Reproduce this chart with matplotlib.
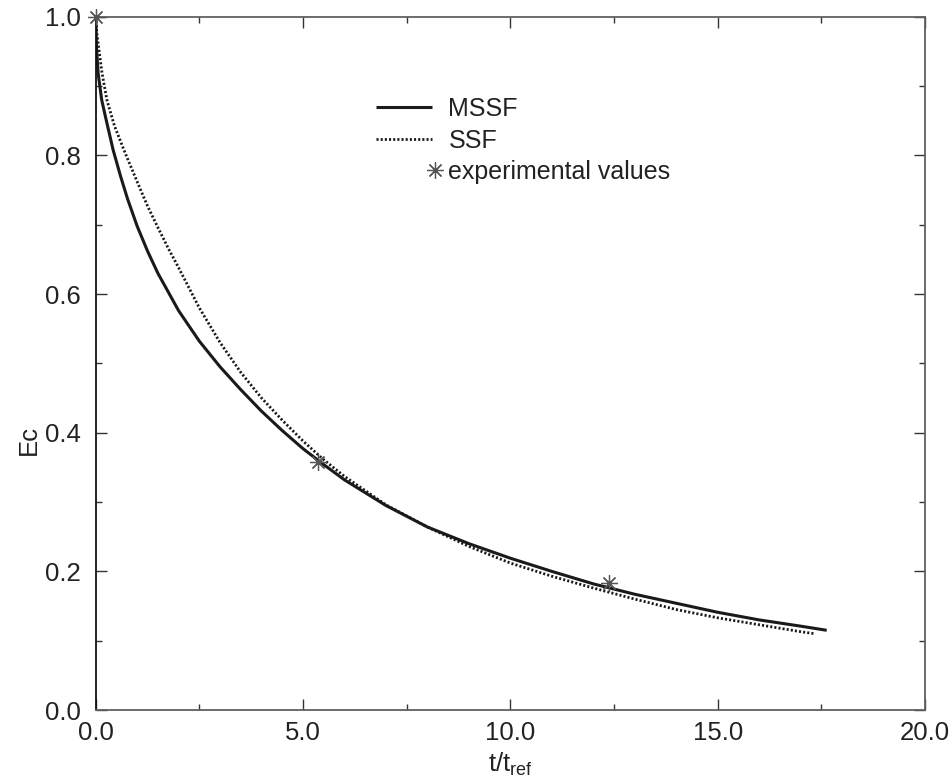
import matplotlib
matplotlib.use("Agg")
import matplotlib.pyplot as plt
from matplotlib.legend_handler import HandlerBase
from matplotlib.lines import Line2D
from matplotlib.ticker import MultipleLocator, FormatStrFormatter

plt.rcParams['font.family'] = ['Liberation Sans', 'DejaVu Sans']
plt.rcParams['mathtext.fontset'] = 'custom'
plt.rcParams['mathtext.rm'] = 'Liberation Sans'
plt.rcParams['mathtext.default'] = 'regular'

# MSSF model curve
mssf_t = [0.00, 0.02, 0.06, 0.145, 0.25, 0.42, 0.60, 0.77, 1.00, 1.25, 1.50,
          2.00, 2.50, 3.00, 3.50, 4.00, 4.50, 5.00, 5.50, 6.00, 7.00, 8.00,
          9.00, 10.00, 11.00, 12.00, 13.00, 14.00, 15.00, 16.00, 17.00, 17.63]
mssf_ec = [1.000, 0.955, 0.918, 0.880, 0.852, 0.808, 0.770, 0.737, 0.698, 0.662, 0.630,
           0.576, 0.532, 0.495, 0.462, 0.431, 0.403, 0.377, 0.354, 0.332, 0.295, 0.264,
           0.240, 0.219, 0.200, 0.182, 0.167, 0.154, 0.141, 0.130, 0.121, 0.115]

# SSF model curve
ssf_t = [0.00, 0.03, 0.08, 0.15, 0.27, 0.45, 0.70, 1.00, 1.25, 1.50, 1.75,
         2.00, 2.50, 3.00, 3.50, 4.00, 4.50, 5.00, 5.48, 6.00, 7.00, 8.00,
         9.00, 10.00, 11.00, 12.00, 13.00, 14.00, 15.00, 16.00, 17.00, 17.35]
ssf_ec = [1.000, 0.975, 0.952, 0.920, 0.880, 0.843, 0.805, 0.762, 0.727, 0.696, 0.666,
          0.638, 0.580, 0.530, 0.487, 0.450, 0.418, 0.388, 0.362, 0.337, 0.296, 0.264,
          0.236, 0.212, 0.193, 0.176, 0.160, 0.145, 0.133, 0.123, 0.113, 0.110]

# measured points
exp_t = [0.0, 5.35, 12.38]
exp_ec = [1.0, 0.358, 0.183]

labels = ["MSSF", "SSF", "experimental values"]


class MarkerAtEnd(HandlerBase):
    """Legend handler drawing a single marker at the right end of the handle box."""
    def create_artists(self, legend, orig_handle, xdescent, ydescent,
                       width, height, fontsize, trans):
        x = width - xdescent + 2
        y = height / 2 - ydescent
        mk = Line2D([x], [y], ls='none', marker=orig_handle.get_marker(),
                    ms=orig_handle.get_markersize(),
                    mew=orig_handle.get_markeredgewidth(),
                    color=orig_handle.get_color())
        mk.set_transform(trans)
        return [mk]


fig = plt.figure(figsize=(9.52, 7.80), dpi=100)
ax = fig.add_axes([0.1005, 0.0897, 0.8711, 0.8889])

l1, = ax.plot(mssf_t, mssf_ec, color='#1a1a1a', lw=2.2, solid_capstyle='butt',
              solid_joinstyle='round', label=labels[0])
l2, = ax.plot(ssf_t, ssf_ec, color='#1a1a1a', lw=2.0, dashes=(0.75, 0.75),
              label=labels[1])
l3, = ax.plot(exp_t, exp_ec, ls='none', marker=(8, 2, 0), ms=12, mew=0.9,
              color='#555555', label=labels[2], clip_on=False, zorder=5)

ax.set_xlim(0, 20)
ax.set_ylim(0, 1.0)
ax.xaxis.set_major_locator(MultipleLocator(5))
ax.xaxis.set_minor_locator(MultipleLocator(2.5))
ax.yaxis.set_major_locator(MultipleLocator(0.2))
ax.yaxis.set_minor_locator(MultipleLocator(0.1))
ax.xaxis.set_major_formatter(FormatStrFormatter('%.1f'))
ax.yaxis.set_major_formatter(FormatStrFormatter('%.1f'))

ax.tick_params(which='both', direction='in', top=True, right=True,
               color='#333333', width=1.0, labelsize=18.5, labelcolor='#222222')
ax.tick_params(which='major', length=8)
ax.tick_params(which='minor', length=4.5)
ax.tick_params(axis='x', which='major', pad=8)
ax.tick_params(axis='y', which='major', pad=11)

for side in ('bottom', 'right', 'top'):
    ax.spines[side].set_color('#606060')
    ax.spines[side].set_linewidth(1.3)
ax.spines['left'].set_color('#111111')
ax.spines['left'].set_linewidth(1.3)

ax.set_xlabel('t/t$_{ref}$', fontsize=18.5, color='#222222', labelpad=4)
ax.set_ylabel('Ec', fontsize=18.5, color='#222222')
ax.yaxis.set_label_coords(-0.066, 0.39)

leg = ax.legend(handles=[l1, l2, l3], labels=labels, loc='upper left',
                bbox_to_anchor=(0.338, 0.884), frameon=False, fontsize=18,
                handlelength=2.25, handletextpad=0.65, labelspacing=0.3,
                borderpad=0, borderaxespad=0,
                handler_map={l3: MarkerAtEnd()})
for t in leg.get_texts():
    t.set_color('#222222')

fig.savefig('out.png', dpi=100)
